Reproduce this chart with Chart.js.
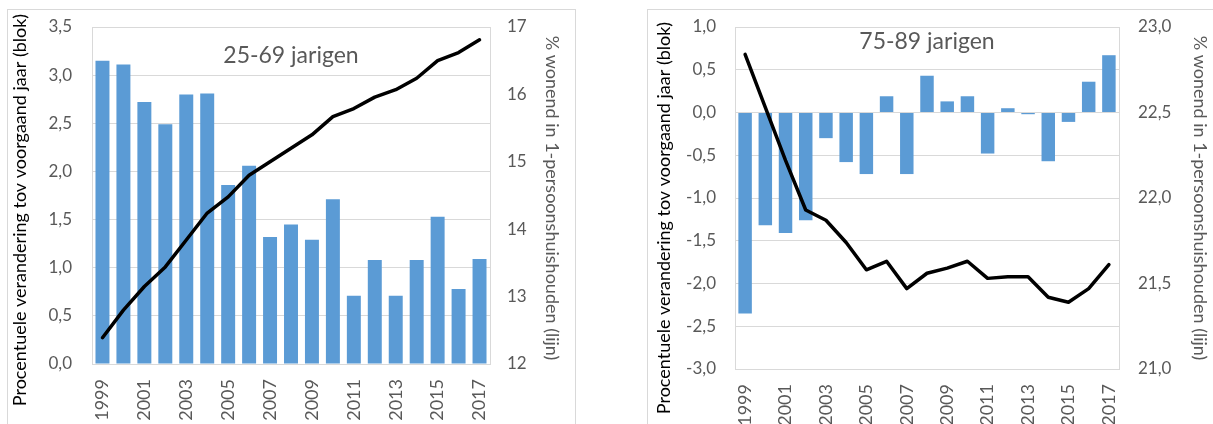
<!DOCTYPE html>
<html>
<head>
<meta charset="utf-8">
<script src="https://cdn.jsdelivr.net/npm/chart.js@4.4.0/dist/chart.umd.min.js"></script>
<style>
  html, body { margin: 0; padding: 0; background: #fff; width: 1213px; height: 424px; overflow: hidden; }
  .box { position: absolute; top: 9px; width: 567px; height: 430px; border: 1px solid #d9d9d9; }
  .box canvas { display: block; }
  #box1 { left: 7px; }
  #box2 { left: 647px; }
</style>
</head>
<body>
<div class="box" id="box1"><canvas id="chart1" width="567" height="430"></canvas></div>
<div class="box" id="box2"><canvas id="chart2" width="567" height="430"></canvas></div>
<script>
// data
var years = ["1999", "2000", "2001", "2002", "2003", "2004", "2005", "2006", "2007", "2008",
  "2009", "2010", "2011", "2012", "2013", "2014", "2015", "2016", "2017"];

// 25-69 jarigen
var change2569 = [3.15, 3.11, 2.72, 2.49, 2.80, 2.81, 1.86, 2.06, 1.32, 1.45,
  1.29, 1.71, 0.71, 1.08, 0.71, 1.08, 1.53, 0.78, 1.09];
var share2569 = [12.39, 12.80, 13.15, 13.44, 13.84, 14.24, 14.48, 14.80, 15.00, 15.20,
  15.40, 15.67, 15.79, 15.96, 16.07, 16.24, 16.50, 16.62, 16.81];

// 75-89 jarigen
var change7589 = [-2.35, -1.32, -1.41, -1.26, -0.30, -0.58, -0.72, 0.19, -0.72, 0.43,
  0.13, 0.19, -0.48, 0.05, -0.02, -0.57, -0.11, 0.36, 0.67];
var share7589 = [22.84, 22.53, 22.22, 21.93, 21.87, 21.74, 21.58, 21.63, 21.47, 21.56,
  21.59, 21.63, 21.53, 21.54, 21.54, 21.42, 21.39, 21.47, 21.61];

var leftTitle = "Procentuele verandering tov voorgaand jaar (blok)";
var rightTitle = "% wonend in 1-persoonshuishouden (lijn)";

var FONT = "Lato";
var GREY = "#595959";
var GRID = "#d9d9d9";
var BLUE = "#5b9bd5";

function comma(v) {
  return Number(v).toFixed(1).replace(".", ",");
}

// heading inside the plot + rotated axis titles
var chartTexts = {
  id: "chartTexts",
  afterDraw: function (chart, args, opts) {
    var ctx = chart.ctx;
    var area = chart.chartArea;
    ctx.save();
    ctx.fillStyle = GREY;
    ctx.font = "23px " + FONT;
    ctx.textAlign = "center";
    ctx.textBaseline = "alphabetic";
    ctx.fillText(opts.heading, (area.left + area.right) / 2, area.top + opts.headingY);

    ctx.font = "18px " + FONT;
    ctx.textBaseline = "middle";
    opts.titles.forEach(function (t) {
      ctx.save();
      ctx.fillStyle = t.color;
      ctx.translate(t.x, t.y);
      ctx.rotate(t.rotate);
      ctx.fillText(t.text, 0, 0);
      ctx.restore();
    });
    ctx.restore();
  }
};

function makeChart(id, bars, line, cfg) {
  return new Chart(document.getElementById(id), {
    type: "bar",
    data: {
      labels: years,
      datasets: [
        {
          type: "line",
          data: line,
          yAxisID: "y1",
          borderColor: "#000",
          borderWidth: 3.5,
          borderJoinStyle: "round",
          borderCapStyle: "round",
          pointRadius: 0,
          tension: 0,
          order: 0,
        },
        {
          data: bars,
          yAxisID: "y",
          backgroundColor: BLUE,
          barPercentage: 0.667,
          categoryPercentage: 1,
          order: 1,
        },
      ],
    },
    options: {
      responsive: false,
      animation: false,
      layout: {
        padding: { top: 17, left: 0, right: 0, bottom: 0 },
      },
      plugins: {
        legend: { display: false },
        tooltip: { enabled: false },
        chartTexts: {
          heading: cfg.heading,
          headingY: cfg.headingY,
          titles: cfg.titles,
        },
      },
      scales: {
        x: {
          grid: { display: false },
          border: { color: GRID },
          ticks: {
            autoSkip: false,
            minRotation: 90,
            maxRotation: 90,
            padding: 7,
            color: GREY,
            font: { family: FONT, size: 18 },
            callback: function (value, index) {
              return index % 2 === 0 ? this.getLabelForValue(value) : "";
            },
          },
          afterFit: function (s) { s.height = cfg.xHeight; },
        },
        y: {
          position: "left",
          min: cfg.yMin,
          max: cfg.yMax,
          grid: { color: GRID, drawTicks: false },
          border: { color: GRID },
          ticks: {
            stepSize: 0.5,
            padding: cfg.yPad,
            color: GREY,
            font: { family: FONT, size: 17 },
            callback: comma,
          },
          afterFit: function (s) {
            s.width = cfg.leftWidth;
            s.paddingTop = 0;
            s.paddingBottom = 0;
          },
        },
        y1: {
          position: "right",
          min: cfg.y1Min,
          max: cfg.y1Max,
          grid: { drawOnChartArea: false, drawTicks: false },
          border: { color: GRID },
          ticks: {
            stepSize: cfg.y1Step,
            padding: cfg.y1Pad,
            color: GREY,
            font: { family: FONT, size: 17 },
            callback: cfg.y1Format,
          },
          afterFit: function (s) {
            s.width = cfg.rightWidth;
            s.paddingTop = 0;
            s.paddingBottom = 0;
          },
        },
      },
    },
    plugins: [chartTexts],
  });
}

var chart1 = makeChart("chart1", change2569, share2569, {
  heading: "25-69 jarigen",
  headingY: 36,
  yMin: 0, yMax: 3.5, yPad: 20,
  y1Min: 12, y1Max: 17, y1Step: 1, y1Pad: 17,
  y1Format: function (v) { return v; },
  leftWidth: 84, rightWidth: 85, xHeight: 76,
  titles: [
    { text: leftTitle, x: 12, y: 200, rotate: -Math.PI / 2, color: "#000" },
    { text: rightTitle, x: 544, y: 188, rotate: Math.PI / 2, color: GREY },
  ],
});

var chart2 = makeChart("chart2", change7589, share7589, {
  heading: "75-89 jarigen",
  headingY: 22,
  yMin: -3, yMax: 1, yPad: 19,
  y1Min: 21, y1Max: 23, y1Step: 0.5, y1Pad: 19,
  y1Format: comma,
  leftWidth: 87, rightWidth: 96, xHeight: 71,
  titles: [
    { text: leftTitle, x: 16, y: 208, rotate: -Math.PI / 2, color: "#000" },
    { text: rightTitle, x: 552, y: 188, rotate: Math.PI / 2, color: GREY },
  ],
});
</script>
</body>
</html>
